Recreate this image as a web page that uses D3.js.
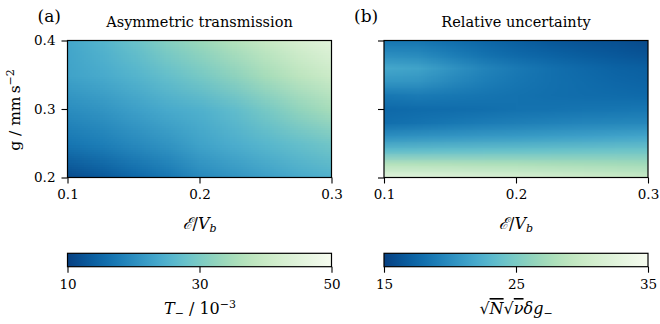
<!DOCTYPE html>
<html>
<head>
<meta charset="utf-8">
<script src="https://cdn.jsdelivr.net/npm/d3@7"></script>
<style>
  body { margin: 0; background: #fff; }
  svg text { font-family: "DejaVu Serif", serif; fill: #000; }
</style>
</head>
<body>
<script>
// grid of the two maps (columns = E/Vb, rows = g, top row is g = 0.4)
var eGrid = [0.1, 0.125, 0.15, 0.175, 0.2, 0.225, 0.25, 0.275, 0.3]
var gGridA = [0.4, 0.35, 0.3, 0.25, 0.2]
var gGridB = [0.4, 0.38, 0.36, 0.34, 0.32, 0.3, 0.28, 0.26, 0.24, 0.22, 0.2]

// T_ / 1e-3
var transA = [
  [23.5, 25.5, 28, 31, 33.5, 36.5, 39.5, 42.5, 45],
  [23, 24, 25.5, 27.5, 29.5, 32, 35, 38, 40.5],
  [20, 21, 22.5, 24, 25, 27, 29.5, 32.5, 35],
  [17, 18, 19.5, 21, 23, 24.5, 26, 27.5, 29],
  [11.5, 13, 15, 17, 19.5, 21, 22.5, 24, 25]
]

// sqrt(N) sqrt(nu) dg_
var uncertB = [
  [18.5, 18.5, 18, 17.5, 17, 16.5, 16.2, 16, 15.6],
  [20, 19.8, 19, 18.2, 17.6, 17.2, 16.8, 16.5, 16.2],
  [21.8, 21.5, 20.4, 19.4, 18.7, 18.1, 17.6, 17.2, 17],
  [20.6, 20.5, 19.7, 19, 18.5, 18.1, 17.8, 17.5, 17.3],
  [18.6, 18.8, 18.6, 18.4, 18.2, 18, 17.9, 17.8, 17.7],
  [17.6, 17.8, 17.9, 18, 18.2, 18.3, 18.4, 18.5, 18.6],
  [18, 18.3, 18.6, 18.9, 19.1, 19.3, 19.5, 19.6, 19.7],
  [20.3, 20.5, 20.7, 20.9, 21, 21.2, 21.4, 21.6, 21.8],
  [23.5, 23.6, 23.7, 23.8, 23.9, 24, 24.1, 24.2, 24.3],
  [28.5, 28.4, 28.3, 28.1, 28, 27.8, 27.6, 27.4, 27.2],
  [32.8, 32.6, 32.3, 32, 31.6, 31.2, 30.8, 30.4, 30]
]

var xTicks = [0.1, 0.2, 0.3]
var yTicks = [0.2, 0.3, 0.4]
var cbTicksA = [10, 30, 50]
var cbTicksB = [15, 25, 35]

var width = 660, height = 324
var plotTop = 40.5, plotBottom = 177.5
var tickFont = 13.5
var panels = [
  { key: "a", left: 67.5, right: 331.5, title: "Asymmetric transmission", grid: transA, gs: gGridA,
    domain: [10, 50], ticks: cbTicksA, yLabels: true },
  { key: "b", left: 384, right: 648, title: "Relative uncertainty", grid: uncertB, gs: gGridB,
    domain: [15, 35], ticks: cbTicksB, yLabels: false }
]

var svg = d3.select("body").append("svg")
    .attr("width", width)
    .attr("height", height)

panels.forEach(function(p, i) {
    var x = d3.scaleLinear().domain([0.1, 0.3]).range([p.left, p.right])
    var y = d3.scaleLinear().domain([0.2, 0.4]).range([plotBottom, plotTop])
    var color = d3.scaleSequential(d3.interpolateGnBu).domain([p.domain[1], p.domain[0]])

    // small image, one pixel per grid value, scaled up smoothly by the browser
    var nx = eGrid.length, ny = p.gs.length
    var canvas = document.createElement("canvas")
    canvas.width = nx
    canvas.height = ny
    var ctx = canvas.getContext("2d")
    var img = ctx.createImageData(nx, ny)
    p.grid.forEach(function(row, r) {
        row.forEach(function(v, c) {
            var rgb = d3.rgb(color(v))
            var k = (r * nx + c) * 4
            img.data[k] = rgb.r
            img.data[k + 1] = rgb.g
            img.data[k + 2] = rgb.b
            img.data[k + 3] = 255
        })
    })
    ctx.putImageData(img, 0, 0)

    var dx = eGrid[1] - eGrid[0]
    var dg = p.gs[0] - p.gs[1]

    svg.append("clipPath").attr("id", "clip" + p.key)
        .append("rect")
        .attr("x", p.left).attr("y", plotTop)
        .attr("width", p.right - p.left).attr("height", plotBottom - plotTop)

    svg.append("g").attr("clip-path", "url(#clip" + p.key + ")")
        .append("image")
        .attr("href", canvas.toDataURL())
        .attr("preserveAspectRatio", "none")
        .attr("x", x(eGrid[0] - dx / 2))
        .attr("y", y(p.gs[0] + dg / 2))
        .attr("width", x(eGrid[nx - 1] + dx / 2) - x(eGrid[0] - dx / 2))
        .attr("height", y(p.gs[ny - 1] - dg / 2) - y(p.gs[0] + dg / 2))

    // axes
    var xAxis = d3.axisBottom(x).tickValues(xTicks).tickSize(6).tickPadding(6)
        .tickFormat(d3.format(".1f"))
    var gx = svg.append("g")
        .attr("transform", `translate(0, ${plotBottom})`)
        .call(xAxis)
    var yAxis = d3.axisLeft(y).tickValues(yTicks).tickSize(6).tickPadding(6)
        .tickFormat(p.yLabels ? d3.format(".1f") : "")
    var gy = svg.append("g")
        .attr("transform", `translate(${p.left}, 0)`)
        .call(yAxis)
    ;[gx, gy].forEach(function(g) {
        g.select(".domain").remove()
        g.selectAll(".tick line").attr("stroke", "#000").attr("stroke-width", 1.1)
        g.selectAll(".tick text").attr("font-size", tickFont).attr("font-family", "DejaVu Serif")
    })

    svg.append("rect")
        .attr("x", p.left).attr("y", plotTop)
        .attr("width", p.right - p.left).attr("height", plotBottom - plotTop)
        .attr("fill", "none").attr("stroke", "#000").attr("stroke-width", 1.2)

    // panel letter and title
    svg.append("text")
        .attr("x", p.left - 30).attr("y", 22)
        .attr("font-size", 17)
        .text("(" + p.key + ")")
    svg.append("text")
        .attr("x", (p.left + p.right) / 2).attr("y", 27)
        .attr("text-anchor", "middle")
        .attr("font-size", 14.5)
        .text(p.title)

    // x label: script E / V_b
    var xl = svg.append("text")
        .attr("x", (p.left + p.right) / 2).attr("y", 229)
        .attr("text-anchor", "middle")
        .attr("font-size", 16)
    xl.append("tspan").attr("font-style", "italic").text("\u2130")
    xl.append("tspan").text("/")
    xl.append("tspan").attr("font-style", "italic").text("V")
    xl.append("tspan").attr("font-style", "italic").attr("font-size", 11).attr("dy", 3).text("b")

    // colorbar
    var cbTop = 253.3, cbBottom = 266.7
    var cx = d3.scaleLinear().domain(p.domain).range([p.left, p.right])
    var grad = svg.append("defs").append("linearGradient").attr("id", "grad" + p.key)
    d3.range(0, 1.0001, 0.05).forEach(function(t) {
        var v = p.domain[0] + t * (p.domain[1] - p.domain[0])
        grad.append("stop").attr("offset", t).attr("stop-color", color(v))
    })
    svg.append("rect")
        .attr("x", cx(p.domain[0])).attr("y", cbTop)
        .attr("width", cx(p.domain[1]) - cx(p.domain[0])).attr("height", cbBottom - cbTop)
        .attr("fill", "url(#grad" + p.key + ")")
        .attr("stroke", "#000").attr("stroke-width", 1.2)
    var gc = svg.append("g")
        .attr("transform", `translate(0, ${cbBottom})`)
        .call(d3.axisBottom(cx).tickValues(p.ticks).tickSize(6).tickPadding(7))
    gc.select(".domain").remove()
    gc.selectAll(".tick line").attr("stroke", "#000").attr("stroke-width", 1.1)
    gc.selectAll(".tick text").attr("font-size", tickFont).attr("font-family", "DejaVu Serif")
})

// y label: g / mm s^-2
var yl = svg.append("text")
    .attr("transform", "translate(20, 110) rotate(-90)")
    .attr("text-anchor", "middle")
    .attr("font-size", 15.5)
yl.append("tspan").text("g / mm\u2009s")
yl.append("tspan").attr("font-size", 11).attr("dy", -6).text("\u22122")

// colorbar labels
var la = svg.append("text")
    .attr("x", 200).attr("y", 314)
    .attr("text-anchor", "middle")
    .attr("font-size", 16)
la.append("tspan").attr("font-style", "italic").text("T")
la.append("tspan").attr("font-size", 11).attr("dy", 3).text("\u2212")
la.append("tspan").attr("dy", -3).text(" / 10")
la.append("tspan").attr("font-size", 11).attr("dy", -6).text("\u22123")

var lb = svg.append("text")
    .attr("x", 516).attr("y", 314)
    .attr("text-anchor", "middle")
    .attr("font-size", 16)
lb.append("tspan").text("\u221A")
lb.append("tspan").attr("font-style", "italic").attr("text-decoration", "overline").text("N")
lb.append("tspan").text("\u221A")
lb.append("tspan").attr("font-style", "italic").attr("text-decoration", "overline").text("\u03BD")
lb.append("tspan").attr("font-style", "italic").text("\u03B4g")
lb.append("tspan").attr("font-size", 11).attr("dy", 3).text("\u2212")
</script>
</body>
</html>
